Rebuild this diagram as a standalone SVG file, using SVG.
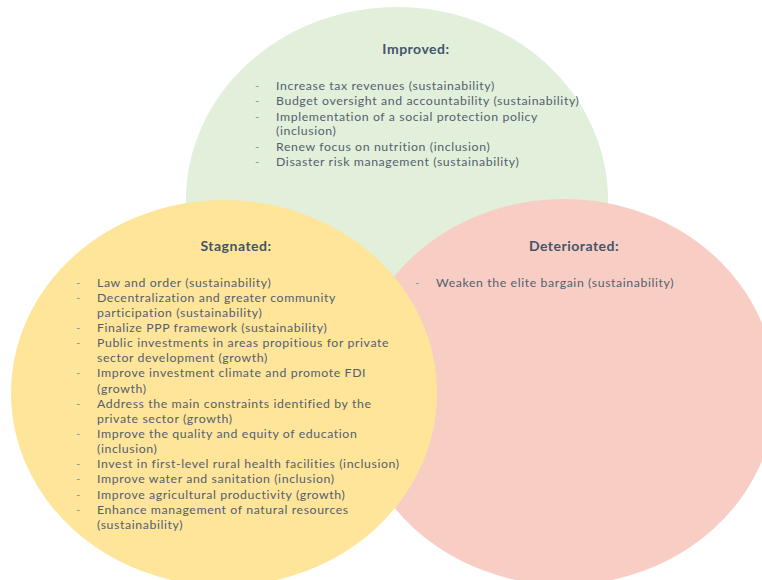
<svg xmlns="http://www.w3.org/2000/svg" width="762" height="580" viewBox="0 0 762 580">
<style>
.t{font-family:Lato,"Open Sans","Liberation Sans",sans-serif;font-size:14px;font-weight:bold;fill:#44546A;text-anchor:middle;letter-spacing:0.5px}
.b{font-family:Lato,"Open Sans","Liberation Sans",sans-serif;font-size:12.3px;fill:#535F70;letter-spacing:0.6px}
.d{font-family:Lato,"Open Sans","Liberation Sans",sans-serif;font-size:12px;fill:#8C95A2}
</style>
<rect width="762" height="580" fill="#FFFFFF"/>
<g id="improved">
<ellipse cx="397" cy="200" rx="211" ry="193" fill="#E2EFDA"/>
</g>
<g id="deteriorated">
<ellipse cx="564" cy="392" rx="212" ry="193" fill="#F8CEC4"/>
</g>
<g id="stagnated">
<ellipse cx="224" cy="393" rx="213" ry="193" fill="#FFE599"/>
</g>
<g id="improved-text">
<text class="t" x="416" y="54">Improved:</text>
<text class="d" x="255" y="90">-</text><text class="b" x="276" y="90">Increase tax revenues (sustainability)</text>
<text class="d" x="255" y="105">-</text><text class="b" x="276" y="105">Budget oversight and accountability (sustainability)</text>
<text class="d" x="255" y="120.5">-</text><text class="b" x="276" y="120.5">Implementation of a social protection policy</text>
<text class="b" x="276" y="135">(inclusion)</text>
<text class="d" x="255" y="150.5">-</text><text class="b" x="276" y="150.5">Renew focus on nutrition (inclusion)</text>
<text class="d" x="255" y="166">-</text><text class="b" x="276" y="166">Disaster risk management (sustainability)</text>
</g>
<g id="stagnated-text">
<text class="t" x="236" y="251">Stagnated:</text>
<text class="d" x="76" y="286.5">-</text><text class="b" x="97" y="286.5">Law and order (sustainability)</text>
<text class="d" x="76" y="301.6">-</text><text class="b" x="97" y="301.6">Decentralization and greater community</text>
<text class="b" x="97" y="316.8">participation (sustainability)</text>
<text class="d" x="76" y="331.9">-</text><text class="b" x="97" y="331.9">Finalize PPP framework (sustainability)</text>
<text class="d" x="76" y="347.1">-</text><text class="b" x="97" y="347.1">Public investments in areas propitious for private</text>
<text class="b" x="97" y="362.2">sector development  (growth)</text>
<text class="d" x="76" y="377.3">-</text><text class="b" x="97" y="377.3">Improve investment climate and promote FDI</text>
<text class="b" x="97" y="392.5">(growth)</text>
<text class="d" x="76" y="407.6">-</text><text class="b" x="97" y="407.6">Address the main constraints identified  by the</text>
<text class="b" x="97" y="422.8">private sector (growth)</text>
<text class="d" x="76" y="437.9">-</text><text class="b" x="97" y="437.9">Improve the quality and equity of education</text>
<text class="b" x="97" y="453">(inclusion)</text>
<text class="d" x="76" y="468.2">-</text><text class="b" x="97" y="468.2">Invest in first-level rural health  facilities (inclusion)</text>
<text class="d" x="76" y="483.3">-</text><text class="b" x="97" y="483.3">Improve water and sanitation (inclusion)</text>
<text class="d" x="76" y="498.5">-</text><text class="b" x="97" y="498.5">Improve agricultural productivity (growth)</text>
<text class="d" x="76" y="513.6">-</text><text class="b" x="97" y="513.6">Enhance management of natural resources</text>
<text class="b" x="97" y="528.7">(sustainability)</text>
</g>
<g id="deteriorated-text">
<text class="t" x="574" y="251">Deteriorated:</text>
<text class="d" x="415" y="286.5">-</text><text class="b" x="436" y="286.5">Weaken the elite bargain (sustainability)</text>
</g>
<g id="connectors"></g>
</svg>
